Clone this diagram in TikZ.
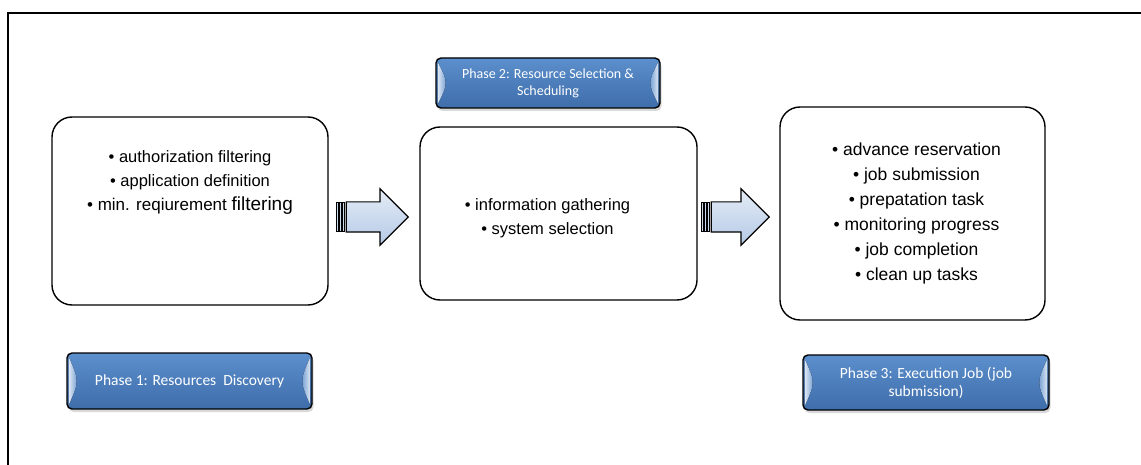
\documentclass[tikz,border=0pt]{standalone}
\usepackage{fontspec}
\setmainfont{Liberation Sans}
\newfontfamily\calibri{Carlito}
\usetikzlibrary{positioning,shapes.arrows,shadows}
\definecolor{phaseblue}{HTML}{4F81BD}
\definecolor{phasetop}{HTML}{5C8FCD}
\definecolor{phasebot}{HTML}{3E6DAA}
\definecolor{arrowblue}{HTML}{B4C9E6}

\begin{document}
\begin{tikzpicture}[x=1pt, y=-1pt,
	stepbox/.style = { draw, line width=1.4pt, rounded corners=20pt, fill=white },
	items/.style = { align=center, font=\fontsize{16.5}{24}\selectfont },
	phase/.style = { draw, line width=1.4pt, rounded corners=5pt,
			top color=phasetop, bottom color=phasebot, text=white,
			align=center, font=\calibri\fontsize{15.5}{18}\selectfont,
			drop shadow={opacity=0.3, shadow xshift=1.5pt, shadow yshift=-3pt} },
	flow/.style = { single arrow, draw, line width=1.2pt, inner xsep=0pt,
			inner ysep=14.5pt, single arrow head extend=13pt,
			minimum height=62pt, top color=arrowblue!35!white,
			bottom color=arrowblue } ]

  \useasboundingbox (0,0) rectangle (1141,465);
  \draw[line width=1.2pt] (8,465) -- (8,13) -- (1141,13);

  \node[name=disc, stepbox, minimum width=276pt, minimum height=188pt] at (190,211) {};
  \node[name=sched, stepbox, minimum width=277pt, minimum height=173pt] at (558.5,213.5) {};
  \node[name=exec, stepbox, minimum width=265pt, minimum height=213pt] at (912.5,213.5) {};

  \node[name=disclist, items, below=31pt of disc.north] {\textbullet\ authorization filtering\\
	\textbullet\ application definition\\
	{\fontsize{17}{24}\selectfont\textbullet\ min. reqiurement {\fontsize{19}{24}\selectfont filtering}}};
  \node[name=schedlist, items, xshift=-11pt, yshift=-5pt] at (sched) {\textbullet\ information gathering\\
	\textbullet\ system selection};
  \node[name=execlist, items, font=\fontsize{17.5}{25}\selectfont, xshift=4pt] at (exec)
    {\textbullet\ advance reservation\\ \textbullet\ job submission\\
	 \textbullet\ prepatation task\\ \textbullet\ monitoring progress\\
	 \textbullet\ job completion\\ \textbullet\ clean up tasks};

  \node[name=flow1, flow, anchor=tip] at (409,217) {};
  \node[name=flow2, flow, anchor=tip, minimum height=58pt] at (770,217) {};
  \foreach \f in {flow1,flow2}
    \foreach \s in {3,6,9}
      \draw[line width=0.8pt, fill=arrowblue!70!white]
        ([xshift=-\s pt, yshift=14.5pt]\f.tail) rectangle ++(2.2pt,-29pt);

  \node[name=ph1, phase, minimum width=245pt, minimum height=56pt] at (189.5,381)
    {Phase 1: Resources~ Discovery};
  \node[name=ph2, phase, font=\calibri\fontsize{14}{17}\selectfont,
        minimum width=224pt, minimum height=50pt] at (548,83)
    {Phase 2: Resource Selection \&\\ Scheduling};
  \node[name=ph3, phase, minimum width=246pt, minimum height=55pt] at (926,382.5)
    {Phase 3: Execution Job (job\\ submission)};

  \foreach \p in {ph1,ph2,ph3} {
    \fill[left color=white!80!phaseblue, right color=phasetop]
      ([shift={(2.5pt,-5pt)}]\p.north west) .. controls ([xshift=13pt]\p.west)
      .. ([shift={(2.5pt,5pt)}]\p.south west) -- cycle;
    \fill[right color=white!80!phaseblue, left color=phasetop]
      ([shift={(-2.5pt,-5pt)}]\p.north east) .. controls ([xshift=-13pt]\p.east)
      .. ([shift={(-2.5pt,5pt)}]\p.south east) -- cycle;
  }
\end{tikzpicture}
\end{document}
